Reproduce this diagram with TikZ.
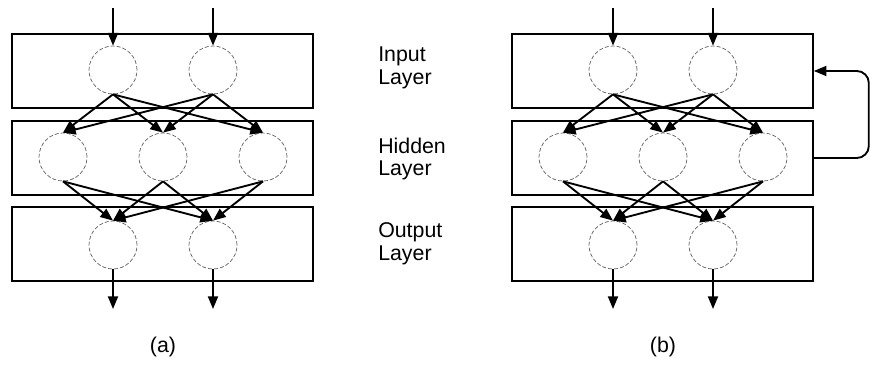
\documentclass[tikz,border=0pt]{standalone}
\usepackage{fontspec}
\setmainfont{Liberation Sans}
\usetikzlibrary{arrows.meta, positioning}

\tikzset{
  layer/.style={draw, line width=1.2pt, minimum width=225.75pt, minimum height=55.5pt, inner sep=0pt},
  unit/.style={circle, draw=black!60, dash pattern=on 3pt off 1.5pt, line width=0.55pt, minimum size=36pt, inner sep=0pt},
  link/.style={line width=1.4pt, -{Triangle[length=9.5pt,width=7.5pt]}},
  lbl/.style={font=\fontsize{16}{17}\selectfont, align=left, anchor=west, inner sep=0pt},
}

\begin{document}
\begin{tikzpicture}[x=0.75pt, y=-0.75pt]
    \useasboundingbox (0,0) rectangle (870,370);
    \foreach \p/\dx in {a/0, b/500} {
        % Layer boxes
        \node[layer] (\p-in) at (162.5+\dx,71) {};
        \node[layer] (\p-hid) at (162.5+\dx,158) {};
        \node[layer] (\p-out) at (162.5+\dx,244) {};
        % Units
        \node[unit] (\p-i1) at (113+\dx,70) {};
        \node[unit] (\p-i2) at (213+\dx,70) {};
        \node[unit] (\p-h1) at (63+\dx,157) {};
        \node[unit] (\p-h2) at (163+\dx,157) {};
        \node[unit] (\p-h3) at (263+\dx,157) {};
        \node[unit] (\p-o1) at (113+\dx,245) {};
        \node[unit] (\p-o2) at (213+\dx,245) {};
        % Inputs and outputs
        \coordinate (\p-x1) at (113+\dx,8);
        \coordinate (\p-x2) at (213+\dx,8);
        \coordinate (\p-y1) at (113+\dx,309);
        \coordinate (\p-y2) at (213+\dx,309);
        \draw[link] (\p-x1) -- (\p-i1.north);
        \draw[link] (\p-x2) -- (\p-i2.north);
        \draw[link] (\p-o1.south) -- (\p-y1);
        \draw[link] (\p-o2.south) -- (\p-y2);
        % Connections
        \foreach \h in {1,2,3} {
            \foreach \k in {1,2} {
                \draw[link] (\p-i\k.south) -- (\p-h\h.north);
                \draw[link] (\p-h\h.south) -- (\p-o\k.north);
            }
        }
        % Caption
        \node[font=\fontsize{16}{17}\selectfont] (\p-cap) at (163+\dx,347) {(\p)};
    }
    % Layer names
    \node[lbl] (lin) at (378,68) {Input\\Layer};
    \node[lbl] (lhid) at (378,159) {Hidden\\Layer};
    \node[lbl] (lout) at (378,244) {Output\\Layer};
    % Feedback loop
    \draw[link, rounded corners=9pt] (b-hid.east) -- ++(55,0) |- (b-in.east);
\end{tikzpicture}
\end{document}
